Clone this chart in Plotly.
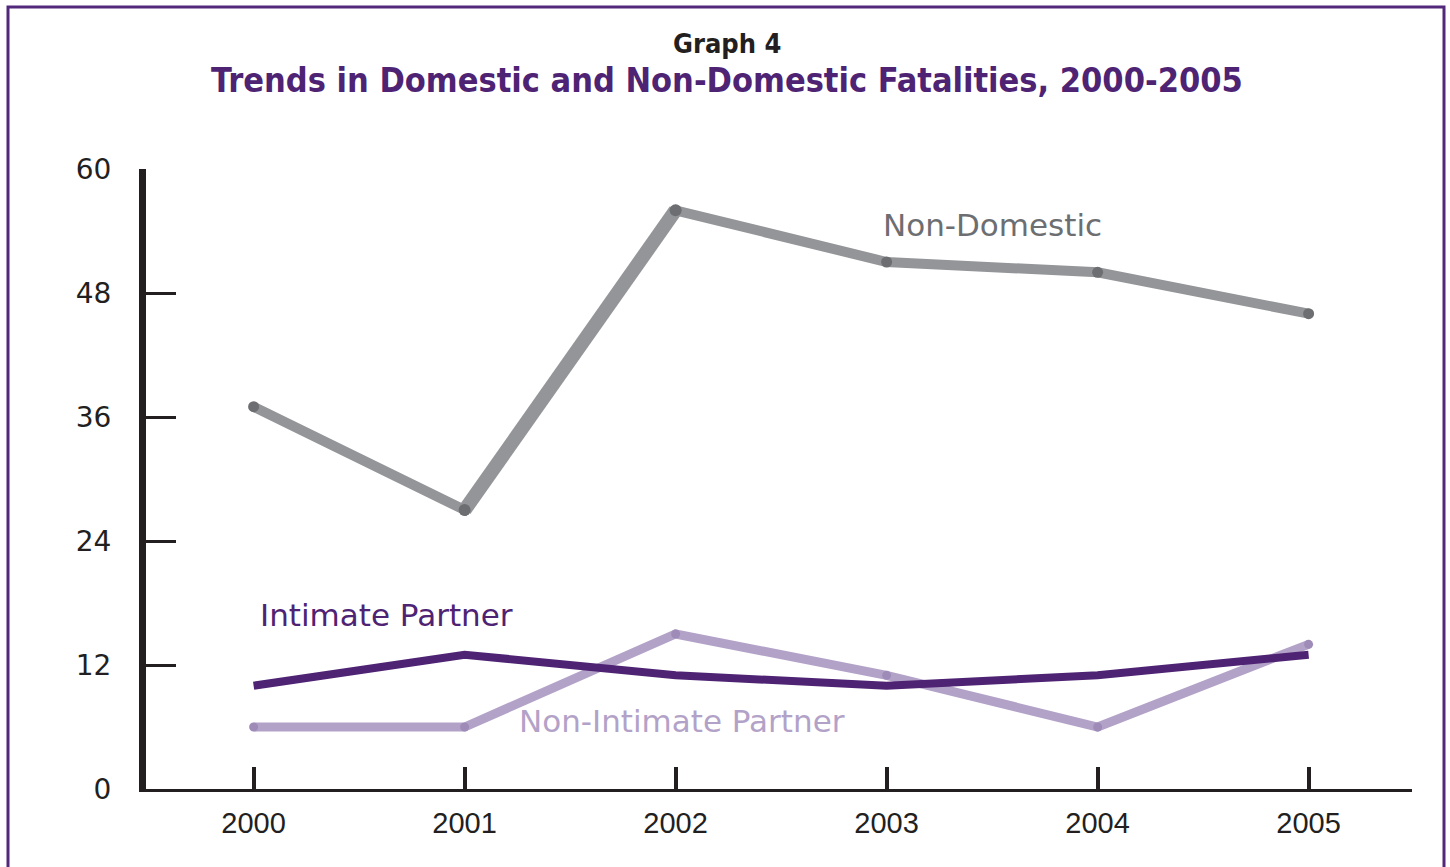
import plotly.graph_objects as go

years = [2000, 2001, 2002, 2003, 2004, 2005]
non_domestic = [37, 27, 56, 51, 50, 46]
intimate_partner = [10, 13, 11, 10, 11, 13]
non_intimate_partner = [6, 6, 15, 11, 6, 14]
y_ticks = [0, 12, 24, 36, 48, 60]

W, H = 1450, 867
L, R, T, B = 146, 38, 169, 78
PW, PH = W - L - R, H - T - B


def px(x):
    return (x - L) / PW


def py(y):
    return (H - B - y) / PH


fig = go.Figure()
fig.add_trace(go.Scatter(
    x=years, y=non_intimate_partner, mode="lines+markers",
    line=dict(color="#b3a2c8", width=9),
    marker=dict(color="#9e8bb8", size=9),
    showlegend=False, hoverinfo="x+y"))
fig.add_trace(go.Scatter(
    x=years, y=intimate_partner, mode="lines",
    line=dict(color="#4e2373", width=8),
    showlegend=False, hoverinfo="x+y"))
fig.add_trace(go.Scatter(
    x=years, y=non_domestic, mode="lines+markers",
    line=dict(color="#939598", width=10),
    marker=dict(color="#6d6e71", size=11),
    showlegend=False, hoverinfo="x+y"))
# thicker rising segment 2001-2002 as in the original
fig.add_trace(go.Scatter(
    x=years[1:3], y=non_domestic[1:3], mode="lines+markers",
    line=dict(color="#939598", width=14),
    marker=dict(color="#6d6e71", size=12),
    showlegend=False, hoverinfo="x+y"))

label_font = "DejaVu Sans"
fig.add_annotation(x=2003.5, y=non_domestic[3] + 3.6, text="Non-Domestic",
                   showarrow=False, font=dict(family=label_font, size=31, color="#6d6e71"))
fig.add_annotation(x=2000.63, y=intimate_partner[0] + 6.8, text="Intimate Partner",
                   showarrow=False, font=dict(family=label_font, size=31, color="#4e2373"))
fig.add_annotation(x=2002.03, y=non_intimate_partner[0] + 0.6, text="Non-Intimate Partner",
                   showarrow=False, font=dict(family=label_font, size=31, color="#b3a2c8"))

# titles
fig.add_annotation(xref="paper", yref="paper", x=px(727), y=py(43),
                   xanchor="center", yanchor="middle",
                   text="Graph 4", showarrow=False,
                   font=dict(family="DejaVu Sans Condensed, DejaVu Sans", size=27,
                             color="#231f20", weight="bold"))
fig.add_annotation(xref="paper", yref="paper", x=px(727), y=py(80),
                   xanchor="center", yanchor="middle",
                   text="Trends in Domestic and Non-Domestic Fatalities, 2000-2005", showarrow=False,
                   font=dict(family="DejaVu Sans Condensed, DejaVu Sans", size=34,
                             color="#4e2373", weight="bold"))

# frame border
fig.add_shape(type="path", xref="paper", yref="paper",
              path=f"M {px(8)} {py(H + 5)} L {px(8)} {py(7)} L {px(1444)} {py(7)} L {px(1444)} {py(H + 5)}",
              line=dict(color="#52297a", width=3))

fig.update_xaxes(
    range=[1999.49, 2005.49], tickmode="array", tickvals=years,
    ticktext=[str(y) for y in years],
    showgrid=False, zeroline=False,
    showline=True, linecolor="#231f20", linewidth=3,
    ticks="inside", ticklen=22, tickwidth=4, tickcolor="#231f20",
    tickfont=dict(family="Liberation Sans", size=29, color="#231f20"),
    ticklabelstandoff=6,
)
fig.update_yaxes(
    range=[0, 60], tickmode="array", tickvals=y_ticks,
    showgrid=False, zeroline=False,
    showline=True, linecolor="#231f20", linewidth=7,
    ticks="inside", ticklen=30, tickwidth=3, tickcolor="#231f20",
    tickfont=dict(family="DejaVu Sans", size=28, color="#231f20"),
    ticklabelstandoff=22,
)
fig.update_layout(
    width=W, height=H,
    margin=dict(l=L, r=R, t=T, b=B, autoexpand=False),
    paper_bgcolor="white", plot_bgcolor="white",
)
fig.write_html("out.html")
